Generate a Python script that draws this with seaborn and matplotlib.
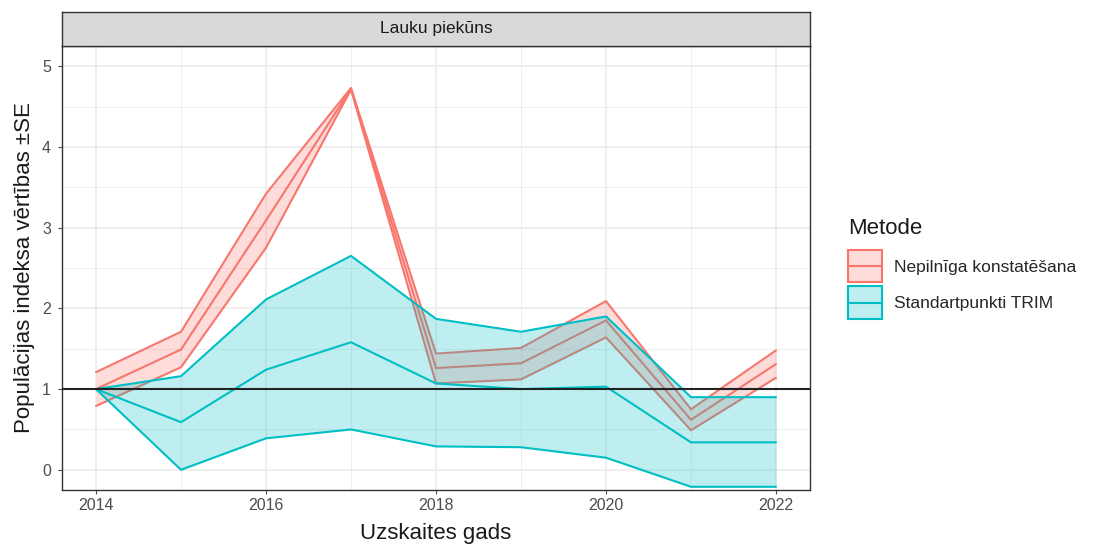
import numpy as np
import pandas as pd
import seaborn as sns
import matplotlib.pyplot as plt
from matplotlib.patches import Patch, Rectangle
from matplotlib.lines import Line2D
from matplotlib.legend_handler import HandlerBase
from matplotlib.colors import to_rgba

# dati
gadi = [2014, 2015, 2016, 2017, 2018, 2019, 2020, 2021, 2022]
metodes = ['Nepilnīga konstatēšana', 'Standartpunkti TRIM']

nepilniga_vid = [1.00, 1.49, 3.09, 4.72, 1.26, 1.32, 1.85, 0.62, 1.31]
nepilniga_aug = [1.21, 1.71, 3.42, 4.73, 1.44, 1.51, 2.09, 0.75, 1.48]
nepilniga_apak = [0.79, 1.27, 2.75, 4.71, 1.07, 1.12, 1.64, 0.49, 1.14]

trim_vid = [1.00, 0.59, 1.24, 1.58, 1.07, 1.00, 1.03, 0.34, 0.34]
trim_aug = [1.00, 1.16, 2.11, 2.65, 1.87, 1.71, 1.90, 0.90, 0.90]
trim_apak = [1.00, 0.00, 0.39, 0.50, 0.29, 0.28, 0.15, -0.21, -0.21]

krasas = {'Nepilnīga konstatēšana': '#F8766D', 'Standartpunkti TRIM': '#00BFC4'}

df = pd.DataFrame({
    'gads': gadi * 2,
    'Metode': [metodes[0]] * 9 + [metodes[1]] * 9,
    'vid': nepilniga_vid + trim_vid,
    'aug': nepilniga_aug + trim_aug,
    'apak': nepilniga_apak + trim_apak,
})
long = df.melt(id_vars=['gads', 'Metode'], value_vars=['vid', 'aug', 'apak'],
               var_name='veids', value_name='vert')


class KeyHandler(HandlerBase):
    # ggplot stila leģendas atslēga: ribbon + līnija vidū
    def create_artists(self, legend, orig_handle, xdescent, ydescent,
                       width, height, fontsize, trans):
        c = orig_handle.get_edgecolor()
        r = Rectangle((-xdescent, -ydescent), width, height,
                      facecolor=to_rgba(c, 0.25), edgecolor=c, lw=1.5,
                      transform=trans)
        mid = -ydescent + height / 2
        ln = Line2D([-xdescent, -xdescent + width], [mid, mid], color=c,
                    lw=1.5, transform=trans)
        return [r, ln]


sns.set_style('white')
plt.rcParams['font.family'] = ['Liberation Sans', 'DejaVu Sans']

fig = plt.figure(figsize=(10.94, 5.46), dpi=100)
ax = fig.add_axes([62 / 1094, 1 - 490 / 546, 748 / 1094, 444 / 546])

# gridlines (theme_bw)
for y in np.arange(-0.5, 5.5, 0.5):
    ax.axhline(y, color='#EBEBEB', lw=0.6 if y % 1 else 1.1, zorder=0)
for x in range(2013, 2024):
    ax.axvline(x, color='#EBEBEB', lw=0.6 if x % 2 else 1.1, zorder=0)

for met in metodes:
    sub = df[df['Metode'] == met]
    ax.fill_between(sub['gads'], sub['apak'], sub['aug'], color=krasas[met],
                    alpha=0.25, lw=0, zorder=2)
    sns.lineplot(data=long[long['Metode'] == met], x='gads', y='vert',
                 hue='Metode', units='veids', estimator=None, palette=krasas,
                 lw=1.5, legend=False, ax=ax, zorder=2)

ax.axhline(1, color='#222222', lw=1.5, zorder=3)

ax.set_xlim(2013.6, 2022.4)
ax.set_ylim(-0.25, 5.25)
ax.set_xticks([2014, 2016, 2018, 2020, 2022])
ax.set_yticks([0, 1, 2, 3, 4, 5])
ax.tick_params(axis='both', labelsize=11.5, colors='#4D4D4D', length=3,
               width=0.8, direction='out', bottom=True, left=True, pad=3)
ax.tick_params(axis='y', pad=5)
for s in ax.spines.values():
    s.set_color('#333333')
    s.set_linewidth(1.0)
ax.set_xlabel('Uzskaites gads', fontsize=16, color='#1A1A1A', labelpad=7)
ax.set_ylabel('Populācijas indeksa vērtības ±SE', fontsize=16, color='#1A1A1A',
              labelpad=5)

# facet strip
strip = fig.add_axes([62 / 1094, 1 - 46 / 546, 748 / 1094, 34 / 546])
strip.set_xticks([])
strip.set_yticks([])
strip.set_facecolor('#D9D9D9')
for s in strip.spines.values():
    s.set_color('#333333')
    s.set_linewidth(1.0)
strip.text(0.5, 0.5, 'Lauku piekūns', ha='center', va='center',
           fontsize=12.5, color='#1A1A1A', transform=strip.transAxes)

# legend
fig.text(848 / 1094, 1 - 228 / 546, 'Metode', ha='left', va='center',
         fontsize=16, color='#1A1A1A')
handles = [Patch(facecolor=krasas[m], edgecolor=krasas[m]) for m in metodes]
leg = fig.legend(handles, metodes, loc='upper left',
                 bbox_to_anchor=(848 / 1094, 1 - 250 / 546), frameon=False,
                 fontsize=12.5, handlelength=1.95, handler_map={Patch: KeyHandler()},
                 handleheight=2.5, handletextpad=0.7, labelspacing=0.22,
                 borderaxespad=0, borderpad=0)

fig.savefig('out.png', dpi=100)
